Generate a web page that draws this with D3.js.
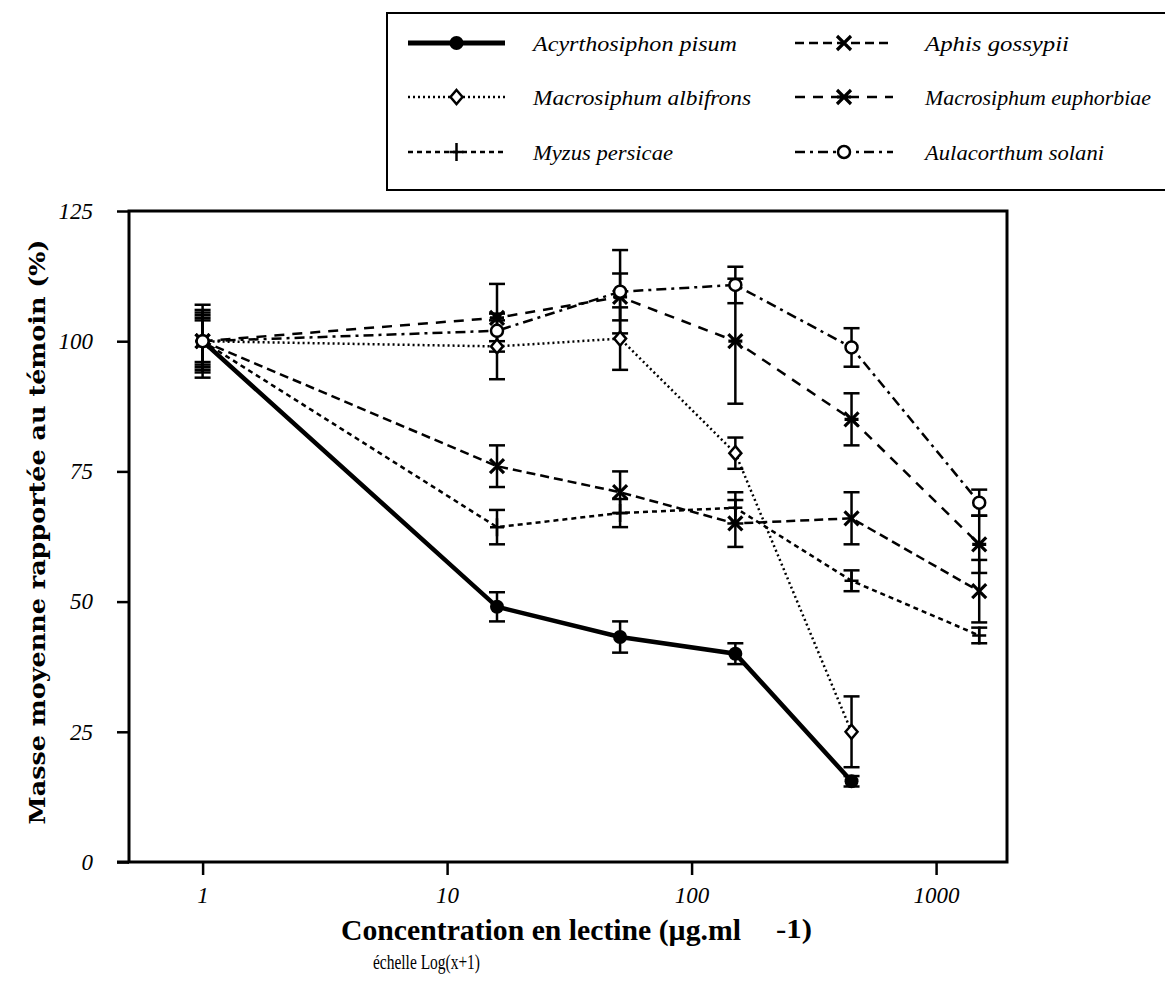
<!DOCTYPE html>
<html>
<head>
<meta charset="utf-8">
<script src="https://cdn.jsdelivr.net/npm/d3@7"></script>
<style>
  body { margin: 0; background: #fff; }
  svg { display: block; }
</style>
</head>
<body>
<div id="chart"></div>
<script>

// concentrations en lectine (µg/ml), tracées en log(x+1)
const concentrations = [0, 15, 50, 150, 450, 1500];
const xTicks = [1, 10, 100, 1000];
const yTicks = [0, 25, 50, 75, 100, 125];

const speciesNames = ["Acyrthosiphon pisum", "Aphis gossypii", "Macrosiphum albifrons",
    "Macrosiphum euphorbiae", "Myzus persicae", "Aulacorthum solani"];

const pisumMean = [100, 49, 43.2, 40, 15.5, null];
const pisumErr = [4, 2.8, 3, 2, 1, null];
const gossypiiMean = [100, 76, 71, 65, 66, 52];
const gossypiiErr = [5, 4, 4, 4.5, 5, 6];
const albifronsMean = [100, 99, 100.5, 78.5, 25, null];
const albifronsErr = [7, 6.3, 6, 3, 6.8, null];
const euphorbiaeMean = [100, 104.5, 108.5, 100, 85, 61];
const euphorbiaeErr = [6, 6.5, 4.5, 12, 5, 5.5];
const persicaeMean = [100, 64.3, 67, 68, 54, 43.5];
const persicaeErr = [5.5, 3.3, 2.7, 3, 2, 1.5];
const solaniMean = [100, 102, 109.5, 110.8, 98.8, 69];
const solaniErr = [4.5, 2, 8, 3.5, 3.7, 2.5];

const means = [pisumMean, gossypiiMean, albifronsMean, euphorbiaeMean, persicaeMean, solaniMean];
const errs = [pisumErr, gossypiiErr, albifronsErr, euphorbiaeErr, persicaeErr, solaniErr];

// style of each series
const styles = [
    {dash: null, width: 4.5, marker: "dot"},
    {dash: "9,5", width: 2.5, marker: "cross"},
    {dash: "2,3", width: 2.5, marker: "diamond"},
    {dash: "10,8", width: 2.5, marker: "star"},
    {dash: "5,4", width: 2.5, marker: "plus"},
    {dash: "10,5,3,5", width: 2.5, marker: "circle"}
];
// legend text widths (the original font is a narrow Times)
const legendTextWidths = [204, 144, 218, 226, 140, 179];

let svgWidth = 1165;
let svgHeight = 996;

let margin = {top: 211, right: 158, bottom: 134, left: 129};
let width = svgWidth - margin.left - margin.right;
let height = svgHeight - margin.top - margin.bottom;

let svg = d3.select('#chart')
    .append('svg')
    .attr('width', svgWidth)
    .attr('height', svgHeight);

let chartGroup = svg.append('g')
    .attr('transform', `translate(${margin.left}, ${margin.top})`);

let xScale = d3.scaleLog()
    .domain([0.5, 1950])
    .range([0, width]);

let yScale = d3.scaleLinear()
    .domain([0, 125])
    .range([height, 0]);

const serif = "'Liberation Serif', 'Times New Roman', serif";

// axes
let bottomAxis = d3.axisBottom(xScale).tickValues(xTicks).tickFormat(d3.format("d"))
    .tickSize(13).tickSizeOuter(0).tickPadding(8);
let leftAxis = d3.axisLeft(yScale).tickValues(yTicks)
    .tickSize(12).tickSizeOuter(0).tickPadding(24);

let gx = chartGroup.append('g')
    .attr('transform', `translate(0, ${height})`)
    .call(bottomAxis);
let gy = chartGroup.append('g').call(leftAxis);

[gx, gy].forEach(g => {
    g.select('.domain').remove();
    g.selectAll('line').attr('stroke', '#000').attr('stroke-width', 2.5);
    g.selectAll('text')
        .attr('fill', '#000')
        .style('font-family', serif)
        .style('font-style', 'italic')
        .style('font-size', '23px');
});
gx.selectAll('text').attr('dy', '0.85em');

// frame
chartGroup.append('rect')
    .attr('width', width).attr('height', height)
    .attr('fill', 'none').attr('stroke', '#000').attr('stroke-width', 3);
chartGroup.append('line')
    .attr('x1', -12).attr('x2', 0).attr('y1', height).attr('y2', height)
    .attr('stroke', '#000').attr('stroke-width', 3);

function drawMarker(g, type, x, y) {
    let s = 7;
    if (type === "dot") {
        g.append('circle').attr('cx', x).attr('cy', y).attr('r', 7).attr('fill', '#000');
    } else if (type === "circle") {
        g.append('circle').attr('cx', x).attr('cy', y).attr('r', 6)
            .attr('fill', '#fff').attr('stroke', '#000').attr('stroke-width', 2.5);
    } else if (type === "diamond") {
        g.append('path')
            .attr('d', `M${x},${y - 7}L${x + 6},${y}L${x},${y + 7}L${x - 6},${y}Z`)
            .attr('fill', '#fff').attr('stroke', '#000').attr('stroke-width', 2.5);
    } else if (type === "cross" || type === "star") {
        g.append('path')
            .attr('d', `M${x - s},${y - s}L${x + s},${y + s}M${x - s},${y + s}L${x + s},${y - s}`
                + (type === "star" ? `M${x - s},${y}L${x + s},${y}` : ""))
            .attr('stroke', '#000').attr('stroke-width', 3.2).attr('fill', 'none');
    } else if (type === "plus") {
        g.append('path')
            .attr('d', `M${x - s},${y}L${x + s},${y}M${x},${y - s - 2}L${x},${y + s + 2}`)
            .attr('stroke', '#000').attr('stroke-width', 2.5).attr('fill', 'none');
    }
}

// error bars
let errGroup = chartGroup.append('g');
means.forEach((m, i) => {
    m.forEach((v, j) => {
        if (v === null) return;
        let e = errs[i][j];
        let x = xScale(concentrations[j] + 1);
        errGroup.append('line')
            .attr('x1', x).attr('x2', x)
            .attr('y1', yScale(v - e)).attr('y2', yScale(v + e))
            .attr('stroke', '#000').attr('stroke-width', 2.5);
        [v - e, v + e].forEach(c => {
            errGroup.append('line')
                .attr('x1', x - 8).attr('x2', x + 8)
                .attr('y1', yScale(c)).attr('y2', yScale(c))
                .attr('stroke', '#000').attr('stroke-width', 2.5);
        });
    });
});

// lines
let line = d3.line()
    .defined(d => d.v !== null)
    .x(d => xScale(d.c + 1))
    .y(d => yScale(d.v));

means.forEach((m, i) => {
    let pts = m.map((v, j) => ({c: concentrations[j], v: v}));
    chartGroup.append('path')
        .datum(pts)
        .attr('d', line)
        .attr('fill', 'none')
        .attr('stroke', '#000')
        .attr('stroke-width', styles[i].width)
        .attr('stroke-dasharray', styles[i].dash);
});

// markers
let markGroup = chartGroup.append('g');
means.forEach((m, i) => {
    m.forEach((v, j) => {
        if (v === null) return;
        drawMarker(markGroup, styles[i].marker, xScale(concentrations[j] + 1), yScale(v));
    });
});

// legend
let legend = svg.append('g');
legend.append('rect')
    .attr('x', 387).attr('y', 13).attr('width', 800).attr('height', 177)
    .attr('fill', 'none').attr('stroke', '#000').attr('stroke-width', 2);

const legendCols = [{x0: 408, x1: 505, tx: 533}, {x0: 795, x1: 893, tx: 925}];
const legendRows = [43, 97, 152];
speciesNames.forEach((name, i) => {
    let col = legendCols[i % 2];
    let y = legendRows[Math.floor(i / 2)];
    legend.append('line')
        .attr('x1', col.x0).attr('x2', col.x1).attr('y1', y).attr('y2', y)
        .attr('stroke', '#000')
        .attr('stroke-width', i === 0 ? 5 : styles[i].width)
        .attr('stroke-dasharray', styles[i].dash);
    drawMarker(legend, styles[i].marker, (col.x0 + col.x1) / 2, y);
    legend.append('text')
        .attr('x', col.tx).attr('y', y + 8)
        .attr('textLength', legendTextWidths[i])
        .attr('lengthAdjust', 'spacingAndGlyphs')
        .style('font-family', serif)
        .style('font-style', 'italic')
        .style('font-size', '22px')
        .text(name);
});

// axis titles
svg.append('text')
    .attr('transform', `translate(45, 532) rotate(-90)`)
    .attr('text-anchor', 'middle')
    .attr('textLength', 585)
    .attr('lengthAdjust', 'spacingAndGlyphs')
    .style('font-family', "'DejaVu Serif', serif")
    .style('font-weight', 'bold')
    .style('font-size', '23px')
    .text('Masse moyenne rapportée au témoin (%)');

let xTitle = svg.append('g').style('font-family', serif).style('font-weight', 'bold');
xTitle.append('text')
    .attr('x', 341).attr('y', 940)
    .attr('textLength', 400)
    .attr('lengthAdjust', 'spacingAndGlyphs')
    .style('font-size', '29px')
    .text('Concentration en lectine (µg.ml');
xTitle.append('text')
    .attr('x', 776).attr('y', 938)
    .attr('textLength', 36)
    .attr('lengthAdjust', 'spacingAndGlyphs')
    .style('font-size', '27px')
    .text('-1)');

svg.append('text')
    .attr('x', 373).attr('y', 969)
    .attr('textLength', 107)
    .attr('lengthAdjust', 'spacingAndGlyphs')
    .style('font-family', serif)
    .style('font-size', '22px')
    .text('échelle Log(x+1)');

</script>
</body>
</html>
